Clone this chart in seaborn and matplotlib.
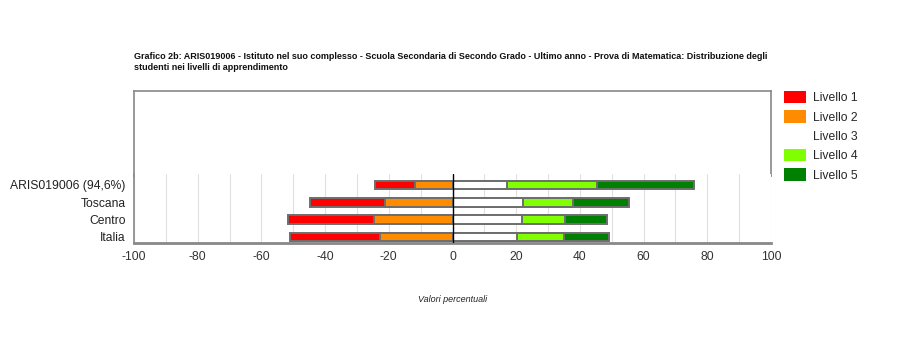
import matplotlib
matplotlib.use("Agg")
import numpy as np
import matplotlib.pyplot as plt
import seaborn as sns
from matplotlib.patches import Patch


# Data (percentages per level)

groups = ["ARIS019006 (94,6%)", "Toscana", "Centro", "Italia"]
livello_1 = [12.5, 23.3, 26.9, 28.2]
livello_2 = [11.8, 21.3, 24.7, 22.8]
livello_3 = [17.2, 22.1, 21.8, 20.2]
livello_4 = [28.1, 15.8, 13.5, 14.8]
livello_5 = [30.5, 17.4, 13.2, 14.1]

level_names = ["Livello 1", "Livello 2", "Livello 3", "Livello 4", "Livello 5"]
level_colors = ["#ff0000", "#ff8c00", "#ffffff", "#7fff00", "#008000"]

title = ("Grafico 2b: ARIS019006 - Istituto nel suo complesso - Scuola Secondaria di "
         "Secondo Grado - Ultimo anno - Prova di Matematica: Distribuzione degli\n"
         "studenti nei livelli di apprendimento")


sns.set_theme(style="white")
plt.rcParams["font.family"] = ["Liberation Sans", "DejaVu Sans"]
plt.rcParams["axes.unicode_minus"] = False

fig = plt.figure(figsize=(9.06, 3.62), dpi=100)

# Empty framed box above the bars (as in the reference)
ax_top = fig.add_axes([0.1479, 0.514, 0.7031, 0.235])
ax_top.set_xticks([])
ax_top.set_yticks([])
for side in ax_top.spines.values():
    side.set_color("#888888")
    side.set_linewidth(1.2)

ax = fig.add_axes([0.1479, 0.3287, 0.7031, 0.1906])

l1 = np.array(livello_1)
l2 = np.array(livello_2)
l3 = np.array(livello_3)
l4 = np.array(livello_4)
l5 = np.array(livello_5)

# Stacked diverging bars, drawn from the outermost segment inwards
layers = [
    (-(l1 + l2), level_colors[0]),
    (-l2, level_colors[1]),
    (l3 + l4 + l5, level_colors[4]),
    (l3 + l4, level_colors[3]),
    (l3, level_colors[2]),
]
for values, colour in layers:
    sns.barplot(x=values, y=groups, orient="h", color=colour,
                edgecolor="#6e6e6e", linewidth=1.4, width=0.5,
                saturation=1, ax=ax)

ax.axvline(0, color="black", linewidth=1, zorder=5)

ax.set_xlim(-100, 100)
ax.set_ylim(3.35, -0.63)
ax.set_xticks(np.arange(-100, 101, 20))
ax.set_xticks(np.arange(-100, 101, 10), minor=True)
ax.grid(True, axis="x", which="both", color="#e0e0e0", linewidth=0.8)
ax.set_axisbelow(True)
ax.tick_params(axis="both", which="both", length=0, labelsize=8.7)
ax.tick_params(axis="x", colors="#333333", pad=6)
ax.tick_params(axis="y", colors="#222222", pad=6)
ax.set_ylabel("")
ax.set_xlabel("Valori percentuali", fontsize=6.5, style="italic",
              color="#222222", labelpad=23)

for name in ["top", "right"]:
    ax.spines[name].set_visible(False)
ax.spines["left"].set_color("#888888")
ax.spines["left"].set_linewidth(1.2)
ax.spines["bottom"].set_color("#888888")
ax.spines["bottom"].set_linewidth(2)

fig.text(0.1479, 0.80, title, fontsize=6.5, fontweight="bold",
         color="#111111", va="bottom", ha="left", linespacing=1.3)

handles = [Patch(facecolor=c, edgecolor="none", label=n)
           for n, c in zip(level_names, level_colors)]
fig.legend(handles=handles, loc="upper left", bbox_to_anchor=(0.8595, 0.762),
           frameon=False, fontsize=8.7, handlelength=1.85, handleheight=1.2,
           labelspacing=0.5, handletextpad=0.6, borderaxespad=0)

fig.savefig("out.png", dpi=100)
